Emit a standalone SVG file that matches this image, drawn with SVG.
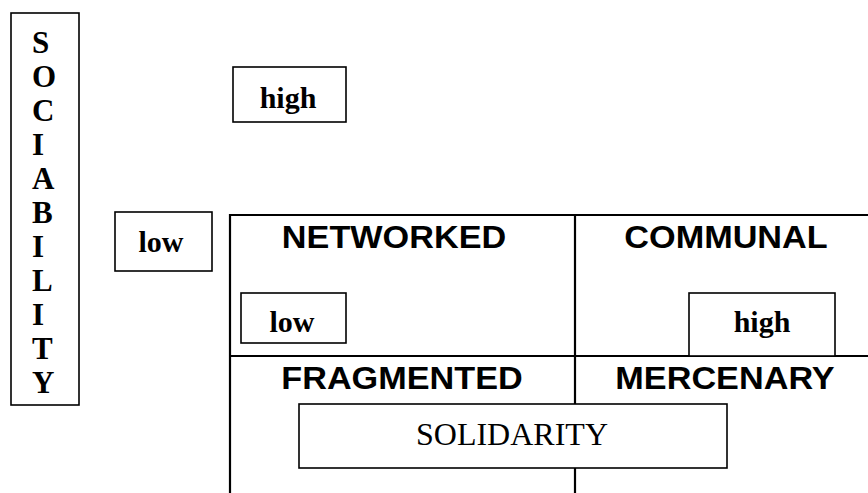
<svg xmlns="http://www.w3.org/2000/svg" width="868" height="493" viewBox="0 0 868 493">
<style>
.box{fill:#fff;stroke:#000;stroke-width:1.6}
.grid{stroke:#000;stroke-width:2.2;fill:none}
.sb{font-family:"Liberation Serif",serif;font-weight:bold;font-size:30px;fill:#000}
.sl{font-family:"Liberation Serif",serif;font-weight:bold;font-size:31px;fill:#000}
.sr{font-family:"Liberation Serif",serif;font-size:32px;fill:#000}
.ss{font-family:"Liberation Sans",sans-serif;font-weight:bold;font-size:32px;fill:#000}
.c{text-anchor:middle}
</style>
<rect width="868" height="493" fill="#fff"/>
<g id="grid">
<line class="grid" x1="230" y1="215" x2="868" y2="215"/>
<line class="grid" x1="230" y1="356" x2="868" y2="356"/>
<line class="grid" x1="230" y1="214" x2="230" y2="493"/>
<line class="grid" x1="575" y1="214" x2="575" y2="493"/>
</g>
<g id="sociability">
<rect class="box" x="11" y="13" width="68" height="392"/>
<g class="sl">
<text x="32" y="53">S</text>
<text x="32" y="87">O</text>
<text x="32" y="121">C</text>
<text x="32" y="155">I</text>
<text x="32" y="189">A</text>
<text x="32" y="223">B</text>
<text x="32" y="257">I</text>
<text x="32" y="291">L</text>
<text x="32" y="325">I</text>
<text x="32" y="359">T</text>
<text x="32" y="393">Y</text>
</g>
</g>
<g id="high-top">
<rect class="box" x="233" y="67" width="113" height="55"/>
<text class="sb c" x="288" y="108">high</text>
</g>
<g id="low-left">
<rect class="box" x="115" y="212" width="97" height="59"/>
<text class="sb c" x="161" y="252">low</text>
</g>
<g id="networked">
<text class="ss c" transform="translate(394,248) scale(1.07,1)">NETWORKED</text>
</g>
<g id="communal">
<text class="ss c" transform="translate(726,248) scale(1.07,1)">COMMUNAL</text>
</g>
<g id="fragmented">
<text class="ss c" transform="translate(402,389) scale(1.07,1)">FRAGMENTED</text>
</g>
<g id="mercenary">
<text class="ss c" transform="translate(725,389) scale(1.07,1)">MERCENARY</text>
</g>
<g id="low-inner">
<rect class="box" x="241" y="293" width="105" height="50"/>
<text class="sb c" x="292" y="332">low</text>
</g>
<g id="high-inner">
<rect class="box" x="689" y="293" width="146" height="63"/>
<text class="sb c" x="762" y="332">high</text>
</g>
<g id="solidarity">
<rect class="box" x="299" y="404" width="428" height="64"/>
<text class="sr c" x="512" y="445">SOLIDARITY</text>
</g>
</svg>
